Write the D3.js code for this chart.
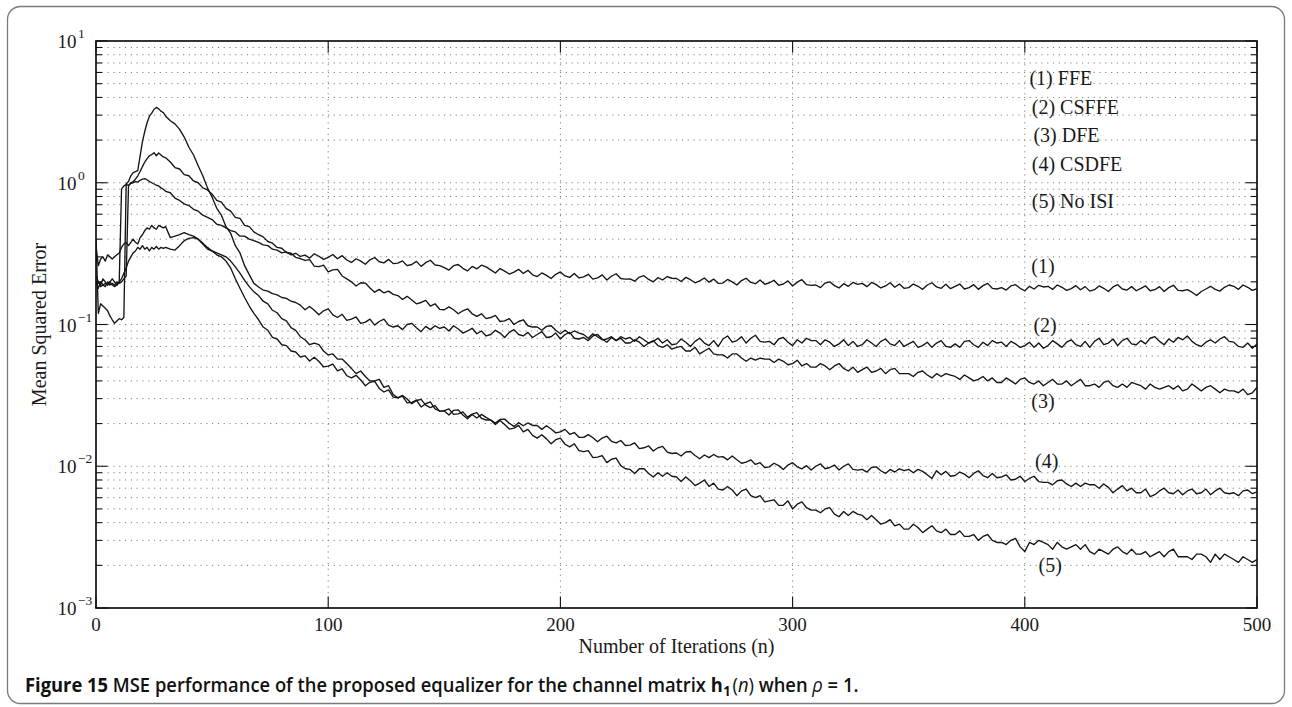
<!DOCTYPE html>
<html><head><meta charset="utf-8">
<script src="https://cdn.jsdelivr.net/npm/d3@7"></script>
<style>body{margin:0;background:#fff}svg{display:block}</style>
</head><body>
<svg id="c" width="1292" height="707"></svg>
<script>
// ---------- data ----------
const xTickValues = [0, 100, 200, 300, 400, 500];
const yTickExponents = [1, 0, -1, -2, -3];
const legendLabels = ["(1) FFE", "(2) CSFFE", "(3) DFE", "(4) CSDFE", "(5) No ISI"];
const curveLabels = ["(1)", "(2)", "(3)", "(4)", "(5)"];
// iteration index: every iteration up to 29, then every 2nd iteration
const iterations = d3.range(0, 30).concat(d3.range(30, 501, 2));

const ffe = [
0.22,0.2,0.19,0.21,0.2,0.19,0.2,0.21,0.2,0.19,
0.2,0.9,0.95,0.97,0.96,0.99,1.0,1.02,1.01,1.04,
1.06,1.07,1.05,1.02,1.0,0.98,0.96,0.95,0.92,0.9,
0.87,0.85,0.78,0.75,0.71,0.69,0.65,0.63,0.59,0.57,
0.55,0.51,0.5,0.48,0.46,0.45,0.42,0.42,0.4,0.39,
0.38,0.365,0.36,0.34,0.335,0.32,0.325,0.31,0.318,0.302,
0.309,0.294,0.315,0.303,0.288,0.297,0.312,0.291,0.306,0.285,
0.274,0.291,0.28,0.266,0.286,0.297,0.277,0.272,0.288,0.269,
0.271,0.281,0.26,0.265,0.279,0.257,0.273,0.284,0.263,0.26,
0.252,0.242,0.26,0.265,0.249,0.239,0.257,0.247,0.262,0.255,
0.243,0.231,0.248,0.238,0.227,0.234,0.245,0.229,0.241,0.224,
0.218,0.231,0.222,0.211,0.226,0.235,0.22,0.215,0.229,0.213,
0.217,0.226,0.209,0.213,0.224,0.206,0.219,0.228,0.211,0.209,
0.21,0.202,0.216,0.221,0.208,0.2,0.214,0.206,0.218,0.212,
0.211,0.201,0.215,0.207,0.197,0.203,0.213,0.199,0.209,0.195,
0.196,0.208,0.2,0.19,0.204,0.212,0.198,0.194,0.206,0.192,
0.197,0.205,0.189,0.193,0.203,0.187,0.199,0.207,0.191,0.189,
0.19,0.182,0.196,0.2,0.188,0.181,0.194,0.186,0.198,0.192,
0.195,0.185,0.198,0.191,0.181,0.187,0.197,0.183,0.193,0.18,
0.182,0.193,0.186,0.177,0.19,0.197,0.184,0.18,0.192,0.179,
0.186,0.193,0.178,0.182,0.191,0.177,0.188,0.195,0.18,0.178,
0.182,0.175,0.187,0.191,0.18,0.173,0.186,0.178,0.189,0.184,
0.186,0.177,0.19,0.183,0.174,0.179,0.188,0.176,0.185,0.172,
0.176,0.187,0.18,0.171,0.184,0.191,0.178,0.175,0.185,0.173,
0.18,0.187,0.173,0.176,0.185,0.171,0.182,0.189,0.174,0.173,
0.176,0.169,0.16,0.171,0.178,0.186,0.177,0.172,0.183,0.19,
0.186,0.177,0.19,0.183,0.174,0.179];

const csffe = [
0.4,0.12,0.14,0.135,0.13,0.125,0.115,0.108,0.102,0.106,
0.11,0.108,0.112,0.98,1.02,1.12,1.18,1.2,1.22,1.55,
1.95,2.3,2.65,2.95,3.1,3.3,3.4,3.32,3.2,3.12,
2.95,2.74,2.6,2.38,2.1,1.78,1.57,1.32,1.12,0.92,
0.79,0.66,0.59,0.49,0.44,0.36,0.32,0.26,0.225,0.195,
0.184,0.175,0.172,0.165,0.162,0.155,0.153,0.146,0.143,0.137,
0.127,0.134,0.126,0.117,0.125,0.129,0.117,0.112,0.118,0.107,
0.109,0.113,0.102,0.104,0.109,0.099,0.105,0.109,0.099,0.096,
0.098,0.092,0.1,0.102,0.095,0.089,0.097,0.092,0.098,0.094,
0.096,0.09,0.098,0.093,0.087,0.09,0.094,0.086,0.09,0.083,
0.085,0.091,0.087,0.081,0.088,0.092,0.085,0.083,0.088,0.081,
0.085,0.089,0.081,0.082,0.087,0.079,0.085,0.088,0.08,0.079,
0.081,0.077,0.083,0.085,0.079,0.075,0.081,0.077,0.082,0.079,
0.081,0.076,0.082,0.078,0.074,0.076,0.08,0.074,0.078,0.072,
0.073,0.079,0.075,0.07,0.076,0.08,0.074,0.071,0.077,0.07,
0.079,0.083,0.075,0.077,0.082,0.074,0.08,0.084,0.076,0.075,
0.076,0.072,0.079,0.081,0.075,0.071,0.078,0.074,0.08,0.077,
0.077,0.072,0.078,0.075,0.07,0.073,0.078,0.071,0.076,0.07,
0.072,0.078,0.074,0.07,0.076,0.079,0.073,0.071,0.077,0.07,
0.073,0.076,0.069,0.071,0.075,0.069,0.074,0.077,0.07,0.069,
0.073,0.069,0.076,0.077,0.072,0.069,0.075,0.071,0.077,0.074,
0.075,0.07,0.076,0.073,0.069,0.071,0.075,0.069,0.074,0.068,
0.071,0.077,0.073,0.069,0.075,0.078,0.072,0.07,0.076,0.069,
0.076,0.08,0.072,0.074,0.079,0.071,0.077,0.08,0.073,0.072,
0.077,0.073,0.08,0.082,0.076,0.072,0.079,0.075,0.081,0.078,
0.083,0.076,0.072,0.07,0.075,0.078,0.074,0.079,0.082,0.076,
0.075,0.07,0.069,0.074,0.068,0.073];

const dfe = [
0.2,0.18,0.2,0.19,0.185,0.2,0.19,0.195,0.19,0.2,
0.195,0.2,0.21,0.22,0.95,1.0,1.02,1.06,1.12,1.2,
1.3,1.4,1.48,1.55,1.58,1.63,1.55,1.62,1.57,1.52,
1.5,1.4,1.28,1.25,1.14,1.12,1.03,1.0,0.92,0.89,
0.83,0.75,0.73,0.66,0.63,0.57,0.56,0.5,0.49,0.45,
0.43,0.415,0.385,0.375,0.35,0.345,0.322,0.318,0.298,0.292,
0.283,0.287,0.258,0.256,0.262,0.235,0.243,0.245,0.22,0.21,
0.2,0.187,0.197,0.196,0.181,0.169,0.177,0.167,0.172,0.163,
0.16,0.15,0.158,0.149,0.14,0.143,0.148,0.135,0.14,0.128,
0.127,0.133,0.127,0.119,0.125,0.129,0.119,0.114,0.119,0.11,
0.112,0.116,0.105,0.106,0.11,0.1,0.105,0.108,0.098,0.096,
0.096,0.091,0.097,0.098,0.091,0.086,0.091,0.086,0.09,0.087,
0.085,0.08,0.086,0.082,0.078,0.079,0.082,0.077,0.08,0.074,
0.074,0.078,0.075,0.07,0.074,0.077,0.071,0.069,0.072,0.067,
0.069,0.07,0.065,0.065,0.069,0.062,0.065,0.068,0.062,0.061,
0.061,0.058,0.062,0.062,0.058,0.055,0.058,0.056,0.058,0.057,
0.057,0.054,0.057,0.055,0.052,0.053,0.056,0.051,0.053,0.05,
0.05,0.053,0.051,0.048,0.051,0.053,0.049,0.047,0.05,0.046,
0.048,0.05,0.046,0.047,0.049,0.045,0.048,0.049,0.045,0.045,
0.045,0.043,0.046,0.047,0.044,0.042,0.045,0.043,0.045,0.044,
0.043,0.041,0.044,0.042,0.04,0.041,0.043,0.04,0.042,0.039,
0.039,0.042,0.04,0.038,0.041,0.042,0.039,0.038,0.04,0.037,
0.039,0.041,0.038,0.038,0.04,0.037,0.039,0.041,0.037,0.037,
0.038,0.036,0.039,0.04,0.037,0.036,0.038,0.036,0.039,0.038,
0.037,0.035,0.038,0.036,0.035,0.036,0.037,0.035,0.037,0.034,
0.035,0.038,0.036,0.034,0.036,0.037,0.035,0.033,0.035,0.034,
0.034,0.033,0.035,0.032,0.033,0.036];

const csdfe = [
0.36,0.26,0.29,0.3,0.28,0.31,0.3,0.29,0.3,0.31,
0.32,0.35,0.37,0.38,0.36,0.38,0.4,0.38,0.37,0.41,
0.43,0.46,0.48,0.47,0.5,0.48,0.47,0.5,0.49,0.48,
0.49,0.41,0.42,0.43,0.445,0.43,0.42,0.4,0.37,0.34,
0.33,0.32,0.31,0.3,0.28,0.255,0.23,0.205,0.185,0.17,
0.16,0.146,0.14,0.126,0.121,0.11,0.106,0.095,0.091,0.082,
0.078,0.072,0.074,0.072,0.065,0.061,0.062,0.057,0.057,0.053,
0.049,0.045,0.047,0.043,0.04,0.04,0.041,0.036,0.037,0.032,
0.0304,0.0316,0.0298,0.0276,0.0291,0.0296,0.027,0.0259,0.0268,0.0244,
0.0247,0.0254,0.0232,0.0234,0.0242,0.0222,0.0233,0.0239,0.0218,0.0212,
0.0212,0.0202,0.0214,0.0215,0.0201,0.0191,0.0203,0.0193,0.0202,0.0194,
0.0194,0.0182,0.0193,0.0183,0.0172,0.0175,0.0182,0.0168,0.0173,0.016,
0.016,0.0167,0.0159,0.0149,0.0158,0.0163,0.015,0.0146,0.0152,0.014,
0.0141,0.0146,0.0133,0.0135,0.0139,0.0128,0.0135,0.0138,0.0126,0.0123,
0.0124,0.0118,0.0126,0.0127,0.0119,0.0113,0.012,0.0115,0.0121,0.0116,
0.0117,0.0111,0.0118,0.0111,0.0105,0.0107,0.0111,0.0103,0.0106,0.0098,
0.0099,0.0105,0.0101,0.0095,0.0102,0.0106,0.0099,0.0096,0.0101,0.0094,
0.01,0.0104,0.0096,0.0098,0.0102,0.0094,0.01,0.0104,0.0095,0.0094,
0.0095,0.0091,0.0098,0.0099,0.0093,0.0089,0.0095,0.0091,0.0096,0.0093,
0.0095,0.009,0.0095,0.0092,0.0087,0.0082,0.0093,0.0087,0.0092,0.0085,
0.0086,0.0091,0.0088,0.0083,0.0089,0.0093,0.0086,0.0083,0.0089,0.0083,
0.0084,0.0087,0.008,0.0081,0.0085,0.0078,0.0082,0.0085,0.0078,0.0077,
0.0077,0.0074,0.0079,0.008,0.0075,0.0072,0.0076,0.0072,0.0076,0.0074,
0.0074,0.007,0.0075,0.0071,0.0065,0.0069,0.0073,0.0067,0.007,0.0065,
0.0065,0.0069,0.0061,0.0063,0.0067,0.007,0.0065,0.0064,0.0068,0.0063,
0.0067,0.0069,0.0064,0.0065,0.0069,0.0063,0.0067,0.007,0.0065,0.0064,
0.0065,0.0062,0.0067,0.0068,0.0064,0.0066];

const noIsi = [
0.19,0.2,0.185,0.19,0.195,0.19,0.2,0.19,0.185,0.19,
0.2,0.21,0.23,0.25,0.28,0.3,0.32,0.33,0.35,0.34,
0.36,0.34,0.35,0.33,0.35,0.34,0.355,0.34,0.35,0.345,
0.35,0.34,0.335,0.36,0.39,0.405,0.41,0.4,0.375,0.35,
0.33,0.31,0.3,0.28,0.25,0.21,0.18,0.155,0.135,0.12,
0.108,0.096,0.091,0.081,0.079,0.072,0.071,0.065,0.064,0.059,
0.0601,0.0553,0.0587,0.0548,0.0503,0.0509,0.0526,0.0471,0.0487,0.0435,
0.042,0.0438,0.0406,0.037,0.0391,0.0397,0.0354,0.0334,0.0346,0.0307,
0.0304,0.0313,0.028,0.0282,0.0293,0.0262,0.0276,0.0284,0.0254,0.0246,
0.0245,0.023,0.0248,0.025,0.023,0.0216,0.0232,0.0219,0.0232,0.0221,
0.0212,0.0197,0.021,0.0197,0.0183,0.0186,0.0194,0.0175,0.0182,0.0165,
0.0158,0.0167,0.0156,0.0144,0.0154,0.0158,0.0143,0.0137,0.0144,0.0129,
0.0127,0.0129,0.0115,0.0116,0.0119,0.0106,0.0112,0.0114,0.0101,0.0096,
0.0095,0.0089,0.0096,0.0096,0.0089,0.0084,0.009,0.0085,0.009,0.0085,
0.0084,0.0078,0.0084,0.0079,0.0073,0.0076,0.008,0.0072,0.0076,0.0069,
0.0068,0.0072,0.0068,0.0062,0.0067,0.0069,0.0062,0.006,0.0062,0.0056,
0.0057,0.0058,0.0053,0.0053,0.0057,0.005,0.0054,0.0056,0.0051,0.0049,
0.0049,0.0047,0.005,0.0051,0.0046,0.0044,0.0048,0.0045,0.0048,0.0046,
0.0045,0.0042,0.0045,0.0042,0.0039,0.004,0.0042,0.0038,0.0039,0.0036,
0.0036,0.0039,0.0037,0.0034,0.0036,0.0038,0.0035,0.0034,0.0036,0.0033,
0.0033,0.0035,0.0032,0.0032,0.0033,0.003,0.0032,0.0033,0.003,0.0029,
0.0029,0.0028,0.003,0.0031,0.0027,0.0025,0.0029,0.0028,0.003,0.0029,
0.0028,0.0026,0.0029,0.0027,0.0026,0.0027,0.0028,0.0026,0.0028,0.0025,
0.0024,0.0026,0.0025,0.0024,0.0026,0.0027,0.0025,0.0024,0.0026,0.0024,
0.0024,0.0025,0.0023,0.0024,0.0025,0.0023,0.0025,0.0026,0.0023,0.0023,
0.0023,0.0022,0.0024,0.0024,0.0023,0.0021,0.0024,0.0022,0.0024,0.0023,
0.0022,0.0021,0.0023,0.0022,0.0021,0.0022];

const seriesList = [ffe, csffe, dfe, csdfe, noIsi];
// text anchors (iteration, MSE) for the curve labels and the legend block
const curveLabelIter = [402.8, 403.7, 402.8, 404.4, 405.9];
const curveLabelValue = [0.231, 0.0892, 0.0258, 0.00972, 0.001795];
const legendIter = [402, 403, 403.7, 403, 403];
const legendValue = [4.93, 3.05, 1.94, 1.21, 0.664];

// ---------- drawing ----------
const svg = d3.select("#c");
const L = 96, R = 1257, T = 41, B = 608;
const x = d3.scaleLinear().domain([0, 500]).range([L, R]);
const y = d3.scaleLog().domain([1e-3, 10]).range([B, T]);
const serif = "'Liberation Serif', 'Times New Roman', serif";

// outer rounded frame
svg.append("rect").attr("x", 7.5).attr("y", 6.5).attr("width", 1277).attr("height", 697)
  .attr("rx", 13).attr("fill", "none").attr("stroke", "#7a7a7a").attr("stroke-width", 1.3);

// grid
const gridG = svg.append("g").attr("stroke", "#808080").attr("stroke-width", 1)
  .attr("stroke-dasharray", "1.2,4.6").attr("fill", "none");
const yGridVals = [];
for (let e = -3; e <= 0; e++) for (let k = 1; k <= 9; k++) {
  const v = k * Math.pow(10, e);
  if (v > 1e-3 * 1.0001) yGridVals.push(v);
}
gridG.selectAll("line.h").data(yGridVals).join("line").attr("class", "h")
  .attr("x1", L).attr("x2", R).attr("y1", d => y(d)).attr("y2", d => y(d));
gridG.selectAll("line.v").data(xTickValues.slice(1, -1)).join("line").attr("class", "v")
  .attr("x1", d => x(d)).attr("x2", d => x(d)).attr("y1", T).attr("y2", B);

// ticks (inward on all four sides)
const tickG = svg.append("g").attr("stroke", "#111").attr("stroke-width", 1.1);
const majorLen = 11.6, minorLen = 6;
yGridVals.concat([1e-3, 10]).forEach(v => {
  const isMajor = Math.abs(Math.log10(v) - Math.round(Math.log10(v))) < 1e-6;
  const len = isMajor ? majorLen : minorLen;
  const yy = y(v);
  tickG.append("line").attr("x1", L).attr("x2", L + len).attr("y1", yy).attr("y2", yy);
  tickG.append("line").attr("x1", R).attr("x2", R - len).attr("y1", yy).attr("y2", yy);
});
xTickValues.forEach(v => {
  tickG.append("line").attr("x1", x(v)).attr("x2", x(v)).attr("y1", B).attr("y2", B - majorLen);
  tickG.append("line").attr("x1", x(v)).attr("x2", x(v)).attr("y1", T).attr("y2", T + majorLen);
});

// curves
svg.append("clipPath").attr("id", "pc").append("rect")
  .attr("x", L).attr("y", T).attr("width", R - L).attr("height", B - T);
const line = d3.line().x(d => x(d[0])).y(d => y(d[1]));
const curveG = svg.append("g").attr("clip-path", "url(#pc)");
seriesList.forEach(s => {
  const pts = s.map((v, i) => [iterations[i], v]).filter(d => d[0] !== undefined);
  curveG.append("path").datum(pts).attr("d", line)
    .attr("fill", "none").attr("stroke", "#151515").attr("stroke-width", 1.35)
    .attr("stroke-linejoin", "round");
});

// axes box
svg.append("rect").attr("x", L).attr("y", T).attr("width", R - L).attr("height", B - T)
  .attr("fill", "none").attr("stroke", "#111").attr("stroke-width", 1.7);

// x tick labels
svg.append("g").selectAll("text").data(xTickValues).join("text")
  .attr("x", d => x(d)).attr("y", 631).attr("text-anchor", "middle")
  .attr("font-family", serif).attr("font-size", 19).attr("fill", "#1a1a1a").text(d => d);

// y tick labels 10^e
yTickExponents.forEach(e => {
  const yy = y(Math.pow(10, e));
  const t = svg.append("text").attr("x", 57.5).attr("y", yy + 7)
    .attr("font-family", serif).attr("font-size", 19).attr("fill", "#1a1a1a");
  t.append("tspan").text("10");
  t.append("tspan").attr("dx", 1.5).attr("dy", -10).attr("font-size", 13.5)
    .text(e < 0 ? "\u2212" + Math.abs(e) : String(e));
});

// axis titles
svg.append("text").attr("x", (L + R) / 2).attr("y", 653).attr("text-anchor", "middle")
  .attr("font-family", serif).attr("font-size", 20).attr("fill", "#1a1a1a")
  .text("Number of Iterations (n)");
svg.append("text").attr("transform", `translate(46,${(T + B) / 2}) rotate(-90)`)
  .attr("text-anchor", "middle").attr("font-family", serif).attr("font-size", 20)
  .attr("fill", "#1a1a1a").text("Mean Squared Error");

// legend text block (no line samples)
legendLabels.forEach((lab, i) => {
  svg.append("text").attr("x", x(legendIter[i])).attr("y", y(legendValue[i]))
    .attr("font-family", serif).attr("font-size", 20).attr("fill", "#1a1a1a").text(lab);
});
// curve labels
curveLabels.forEach((lab, i) => {
  svg.append("text").attr("x", x(curveLabelIter[i])).attr("y", y(curveLabelValue[i]))
    .attr("font-family", serif).attr("font-size", 20).attr("fill", "#1a1a1a").text(lab);
});

// caption (horizontally condensed to match the narrow original face)
const capG = svg.append("g");
const cap = capG.append("text").attr("x", 0).attr("y", 0)
  .attr("font-family", "'Open Sans','Noto Sans',sans-serif").attr("font-size", 20).attr("fill", "#111");
cap.append("tspan").attr("font-weight", 700).text("Figure 15");
cap.append("tspan").attr("font-weight", 600).text(" MSE performance of the proposed equalizer for the channel matrix ");
cap.append("tspan").attr("font-weight", 700).text("h");
cap.append("tspan").attr("font-weight", 700).attr("font-size", 14).attr("dx", 0.5).attr("dy", 4).text("1");
cap.append("tspan").attr("dx", 2).attr("dy", -4).attr("font-weight", 400).text("(");
cap.append("tspan").attr("font-weight", 400).attr("font-style", "italic").text("n");
cap.append("tspan").attr("font-weight", 400).text(")");
cap.append("tspan").attr("font-weight", 600).text(" when ");
cap.append("tspan").attr("font-weight", 400).attr("font-style", "italic").text("\u03C1");
cap.append("tspan").attr("font-weight", 600).text(" = 1.");
const natural = cap.node().getComputedTextLength();
const sx = Math.min(1, 832 / natural);
capG.attr("transform", `translate(25,692) scale(${sx},1)`);
</script>
</body></html>
